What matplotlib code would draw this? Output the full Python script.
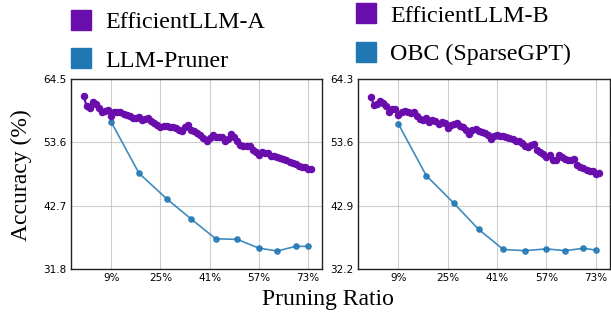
import numpy as np
import matplotlib
matplotlib.use("Agg")
import matplotlib.pyplot as plt
from matplotlib.lines import Line2D

# --- DATA ---
# dense sweep (1% steps) for the EfficientLLM runs
ratio_dense = list(range(0, 75))

acc_eff_a = [61.6, 59.8, 59.5, 60.5, 60.2, 59.6, 58.9, 59.0, 59.1, 58.2,
             58.9, 58.9, 58.8, 58.5, 58.3, 58.1, 57.8, 57.8, 57.9, 57.5,
             57.7, 57.8, 57.2, 57.0, 56.6, 56.3, 56.4, 56.5, 56.3, 56.3,
             56.1, 55.8, 55.5, 56.3, 56.6, 55.8, 55.6, 55.2, 54.8, 54.3,
             53.8, 54.3, 54.9, 54.5, 54.6, 54.5, 53.8, 54.1, 55.0, 54.6,
             53.9, 53.2, 53.0, 53.0, 52.9, 52.3, 52.0, 51.5, 52.0, 51.8,
             51.8, 51.3, 51.2, 51.0, 50.9, 50.7, 50.5, 50.3, 50.0, 49.8,
             49.5, 49.4, 49.3, 49.1, 49.0]

acc_eff_b = [61.3, 60.0, 60.1, 60.6, 60.2, 59.7, 58.8, 59.2, 59.3, 58.2,
             58.8, 58.9, 58.7, 58.6, 58.7, 58.0, 57.6, 57.4, 57.7, 57.1,
             57.4, 57.2, 56.7, 57.0, 56.8, 56.1, 56.6, 56.7, 56.8, 56.4,
             56.2, 55.7, 55.0, 55.7, 55.8, 55.6, 55.4, 55.2, 54.8, 54.2,
             54.7, 54.9, 54.7, 54.6, 54.5, 54.3, 54.1, 53.8, 53.8, 53.5,
             53.0, 52.8, 53.2, 53.3, 52.3, 51.9, 51.6, 51.2, 51.4, 50.7,
             50.7, 51.5, 51.1, 50.8, 50.6, 50.7, 50.8, 49.7, 49.4, 49.2,
             49.0, 48.8, 48.7, 48.3, 48.4]

# baselines are only evaluated at a few ratios
ratio_base = [9, 18, 27, 35, 43, 50, 57, 63, 69, 73]
acc_pruner = [57.1, 48.3, 43.9, 40.4, 37.0, 36.9, 35.4, 34.9, 35.7, 35.7]
acc_obc = [56.7, 48.0, 43.3, 38.9, 35.5, 35.3, 35.6, 35.3, 35.7, 35.4]

xticks = [9, 25, 41, 57, 73]
xtick_labels = ["9%", "25%", "41%", "57%", "73%"]
yticks_a = [31.8, 42.7, 53.6, 64.5]
yticks_b = [32.2, 42.9, 53.6, 64.3]

PURPLE = "#6a0dad"
BLUE = "#1f77b4"
SERIF = "Liberation Serif"

fig = plt.figure(figsize=(6.11, 3.15), dpi=100)

panels = [
    ([0.1162, 0.146, 0.411, 0.603], acc_eff_a, acc_pruner, yticks_a,
     "EfficientLLM-A", "LLM-Pruner", (0.113, 0.964)),
    ([0.586, 0.146, 0.4124, 0.603], acc_eff_b, acc_obc, yticks_b,
     "EfficientLLM-B", "OBC (SparseGPT)", (0.579, 0.984)),
]

for rect, ours, base, yticks, lab_ours, lab_base, leg_pos in panels:
    ax = fig.add_axes(rect)
    ax.plot(ratio_base, base, color=BLUE, alpha=0.85, lw=1.2,
            marker="o", markersize=3.8, zorder=3)
    ax.plot(ratio_dense, ours, color=PURPLE, lw=1.6,
            marker="o", markersize=4.4, zorder=4)

    ax.set_xlim(-4.1, 77.6)
    ax.set_ylim(yticks[0], yticks[-1])
    ax.set_xticks(xticks)
    ax.set_xticklabels(xtick_labels)
    ax.set_yticks(yticks)
    ax.set_yticklabels([f"{t:.1f}" for t in yticks])
    ax.tick_params(length=0, labelsize=7.5, pad=3)
    ax.grid(True, color="#cccccc", lw=0.8)
    ax.set_axisbelow(True)
    for sp in ax.spines.values():
        sp.set_color("#222222")
        sp.set_linewidth(1.0)

    # legend floats above each panel
    handles = [
        Line2D([], [], color=PURPLE, marker="s", linestyle="none", markersize=15),
        Line2D([], [], color=BLUE, marker="s", linestyle="none", markersize=15),
    ]
    fig.legend(handles, [lab_ours, lab_base], loc="upper left",
               bbox_to_anchor=leg_pos, frameon=False,
               prop={"family": SERIF, "size": 17.3},
               handlelength=1.0, handletextpad=0.5, labelspacing=0.7,
               borderpad=0, borderaxespad=0)

fig.text(0.035, 0.445, "Accuracy (%)", rotation=90, va="center", ha="center",
         family=SERIF, fontsize=17)
fig.text(0.536, 0.048, "Pruning Ratio", va="center", ha="center",
         family=SERIF, fontsize=17)

fig.savefig("out.png", dpi=100)
